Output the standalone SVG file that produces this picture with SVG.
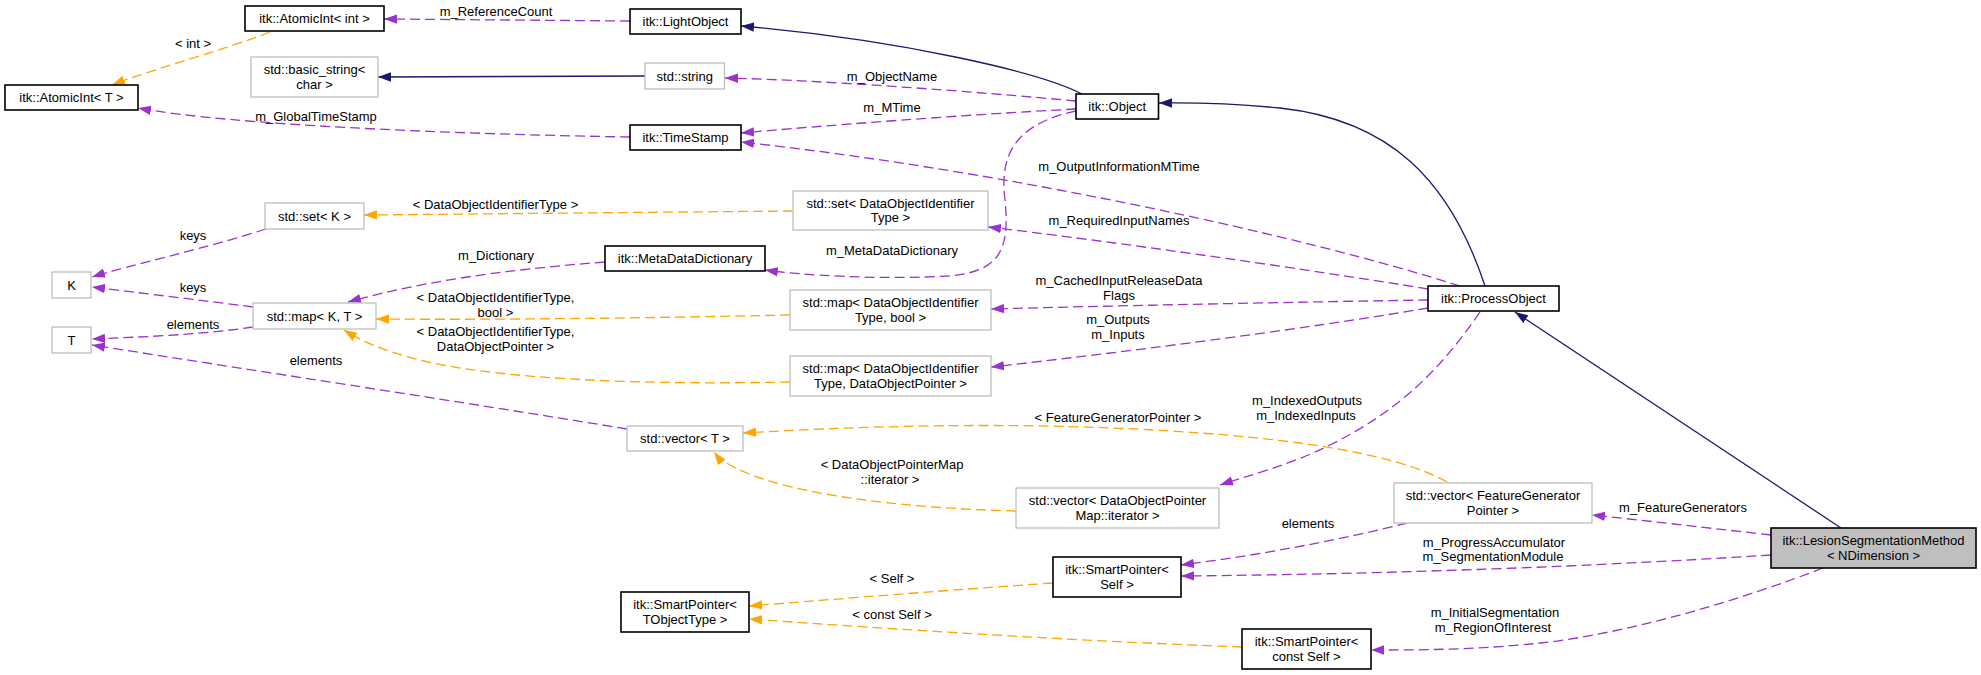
<svg xmlns="http://www.w3.org/2000/svg" width="1981" height="675" viewBox="0 0 1981 675">
<style>
text{font-family:"Liberation Sans",Arial,sans-serif;font-size:13px;fill:#000;text-anchor:middle}
.nb{fill:#fff;stroke:#000;stroke-width:1.6}
.ng{fill:#fff;stroke:#bfbfbf;stroke-width:1.3}
.nm{fill:#bfbfbf;stroke:#000;stroke-width:1.6}
.ep{fill:none;stroke:#9a32cd;stroke-width:1.3;stroke-dasharray:10,5;marker-end:url(#ap)}
.eo{fill:none;stroke:#ffa500;stroke-width:1.3;stroke-dasharray:10,5;marker-end:url(#ao)}
.en{fill:none;stroke:#191970;stroke-width:1.3;marker-end:url(#an)}
</style>
<defs>
<marker id="ap" markerUnits="userSpaceOnUse" markerWidth="14" markerHeight="10" viewBox="0 0 14 10" refX="13" refY="5" orient="auto"><path d="M0,0.3 L13,5 L0,9.7 z" fill="#9a32cd"/></marker>
<marker id="ao" markerUnits="userSpaceOnUse" markerWidth="14" markerHeight="10" viewBox="0 0 14 10" refX="13" refY="5" orient="auto"><path d="M0,0.3 L13,5 L0,9.7 z" fill="#ffa500"/></marker>
<marker id="an" markerUnits="userSpaceOnUse" markerWidth="14" markerHeight="10" viewBox="0 0 14 10" refX="13" refY="5" orient="auto"><path d="M0,0.3 L13,5 L0,9.7 z" fill="#191970"/></marker>
</defs>
<rect width="1981" height="675" fill="#fff"/>
<g id="connectors">
<path class="ep" d="M630,21 L384,19"/>
<text x="496" y="16">m_ReferenceCount</text>
<path class="eo" d="M270,32 C230,48 150,70 112,85"/>
<text x="193" y="47.5">&lt; int &gt;</text>
<path class="en" d="M645,76 L378,77"/>
<path class="ep" d="M630,137 C450,134 230,125 138,108"/>
<text x="316" y="120.5">m_GlobalTimeStamp</text>
<path class="en" d="M1082,94 C1040,72 900,40 741,26"/>
<path class="ep" d="M1076,101 C980,92 820,80 725,78"/>
<text x="892" y="80.5">m_ObjectName</text>
<path class="ep" d="M1076,109 C960,115 820,126 741,133"/>
<text x="892" y="112">m_MTime</text>
<path class="ep" d="M1460,286 C1300,235 1000,170 741,142"/>
<text x="1119" y="171">m_OutputInformationMTime</text>
<path class="ep" d="M1076,111 C1010,125 1000,160 1005,200 C1010,250 1000,272 948,276 C880,280 800,275 765,270"/>
<text x="892" y="255">m_MetaDataDictionary</text>
<path class="ep" d="M1428,289 C1300,268 1100,240 988,227"/>
<text x="1119" y="225">m_RequiredInputNames</text>
<path class="ep" d="M1428,300 C1300,302 1100,306 991,309"/>
<text x="1119" y="285">m_CachedInputReleaseData</text>
<text x="1119" y="299.5">Flags</text>
<path class="ep" d="M1428,308 C1300,330 1100,355 991,367"/>
<text x="1118" y="324">m_Outputs</text>
<text x="1118" y="339">m_Inputs</text>
<path class="ep" d="M1480,312 C1440,370 1400,410 1330,445 C1290,465 1250,475 1220,485"/>
<text x="1307" y="404.5">m_IndexedOutputs</text>
<text x="1306" y="419.5">m_IndexedInputs</text>
<path class="en" d="M1841,528 L1515,312"/>
<path class="en" d="M1485,286 C1450,180 1390,120 1280,108 C1220,102 1180,103 1159,103"/>
<path class="ep" d="M1771,535 C1700,527 1640,520 1592,515"/>
<text x="1683" y="512">m_FeatureGenerators</text>
<path class="ep" d="M1771,555 C1600,566 1400,574 1181,576"/>
<text x="1494" y="547">m_ProgressAccumulator</text>
<text x="1493" y="561">m_SegmentationModule</text>
<path class="ep" d="M1407,523 C1340,540 1260,555 1181,565"/>
<text x="1308" y="528">elements</text>
<path class="ep" d="M1823,568 C1740,600 1640,630 1550,642 C1480,650 1420,650 1371,650"/>
<text x="1495" y="617">m_InitialSegmentation</text>
<text x="1493" y="632">m_RegionOfInterest</text>
<path class="eo" d="M1447,482 C1400,455 1300,440 1200,433 C1050,422 900,424 743,433"/>
<text x="1118" y="421.5">&lt; FeatureGeneratorPointer &gt;</text>
<path class="eo" d="M1016,511 C900,508 800,495 747,473 C730,466 720,460 714,452"/>
<text x="892" y="468.5">&lt; DataObjectPointerMap</text>
<text x="890" y="483.5">::iterator &gt;</text>
<path class="eo" d="M1053,583 C950,590 850,598 749,606"/>
<text x="892" y="583">&lt; Self &gt;</text>
<path class="eo" d="M1242,647 C1050,640 850,626 749,619"/>
<text x="892" y="619">&lt; const Self &gt;</text>
<path class="ep" d="M266,229 C200,250 130,265 92,277"/>
<text x="193" y="239.5">keys</text>
<path class="ep" d="M253,307 C200,300 140,293 92,287"/>
<text x="193" y="291.5">keys</text>
<path class="ep" d="M253,327 C200,335 140,337 92,339"/>
<text x="193" y="328.5">elements</text>
<path class="ep" d="M627,429 C450,400 250,370 92,345"/>
<text x="316" y="364.5">elements</text>
<path class="ep" d="M605,262 C500,270 420,282 348,302"/>
<text x="496" y="259.5">m_Dictionary</text>
<path class="eo" d="M790,315 C650,318 500,320 376,319"/>
<text x="495.5" y="301.5">&lt; DataObjectIdentifierType,</text>
<text x="495.5" y="316.5">bool &gt;</text>
<path class="eo" d="M790,382 C650,385 500,380 420,360 C380,350 360,340 344,330"/>
<text x="495.5" y="336">&lt; DataObjectIdentifierType,</text>
<text x="495.5" y="351">DataObjectPointer &gt;</text>
<path class="eo" d="M793,211 L364,215"/>
<text x="495.5" y="208.5">&lt; DataObjectIdentifierType &gt;</text>
</g>
<g id="n_atomicint_int"><rect class="nb" x="245" y="6" width="139" height="25"/><text x="314.5" y="23">itk::AtomicInt&lt; int &gt;</text></g>
<g id="n_atomicint_t"><rect class="nb" x="5" y="85" width="133" height="25"/><text x="71.5" y="102">itk::AtomicInt&lt; T &gt;</text></g>
<g id="n_basic_string"><rect class="ng" x="251" y="57" width="127" height="40"/><text x="314.5" y="74">std::basic_string&lt;</text><text x="314.5" y="88.5">char &gt;</text></g>
<g id="n_lightobject"><rect class="nb" x="630" y="9" width="111" height="25"/><text x="685.5" y="26">itk::LightObject</text></g>
<g id="n_string"><rect class="ng" x="645" y="63" width="79.5" height="26"/><text x="684.75" y="80.5">std::string</text></g>
<g id="n_object"><rect class="nb" x="1076" y="94" width="82.5" height="25"/><text x="1117.25" y="111">itk::Object</text></g>
<g id="n_timestamp"><rect class="nb" x="630" y="125" width="111" height="25"/><text x="685.5" y="142">itk::TimeStamp</text></g>
<g id="n_set_k"><rect class="ng" x="265" y="203" width="99" height="26"/><text x="314.5" y="220.5">std::set&lt; K &gt;</text></g>
<g id="n_set_doit"><rect class="ng" x="793" y="191" width="195" height="39"/><text x="890.5" y="207.5">std::set&lt; DataObjectIdentifier</text><text x="890.5" y="222">Type &gt;</text></g>
<g id="n_k"><rect class="ng" x="52" y="272" width="39" height="26"/><text x="71.5" y="289.5">K</text></g>
<g id="n_t"><rect class="ng" x="52" y="327" width="39" height="26"/><text x="71.5" y="344.5">T</text></g>
<g id="n_map_kt"><rect class="ng" x="253" y="303" width="123" height="26"/><text x="314.5" y="320.5">std::map&lt; K, T &gt;</text></g>
<g id="n_metadatadictionary"><rect class="nb" x="605" y="246" width="160" height="25"/><text x="685" y="263">itk::MetaDataDictionary</text></g>
<g id="n_map_doit_bool"><rect class="ng" x="790" y="290" width="201" height="40"/><text x="890.5" y="307">std::map&lt; DataObjectIdentifier</text><text x="890.5" y="321.5">Type, bool &gt;</text></g>
<g id="n_map_doit_dop"><rect class="ng" x="790" y="356" width="201" height="40"/><text x="890.5" y="373">std::map&lt; DataObjectIdentifier</text><text x="890.5" y="387.5">Type, DataObjectPointer &gt;</text></g>
<g id="n_vector_t"><rect class="ng" x="627" y="426" width="116" height="25"/><text x="685" y="443">std::vector&lt; T &gt;</text></g>
<g id="n_vector_dopmap"><rect class="ng" x="1016" y="488" width="203" height="40"/><text x="1117.5" y="505">std::vector&lt; DataObjectPointer</text><text x="1117.5" y="519.5">Map::iterator &gt;</text></g>
<g id="n_vector_fg"><rect class="ng" x="1394" y="483" width="198" height="40"/><text x="1493" y="500">std::vector&lt; FeatureGenerator</text><text x="1493" y="514.5">Pointer &gt;</text></g>
<g id="n_processobject"><rect class="nb" x="1428" y="286" width="131" height="25"/><text x="1493.5" y="303">itk::ProcessObject</text></g>
<g id="n_lesion"><rect class="nm" x="1771" y="528" width="205" height="40"/><text x="1873.5" y="545">itk::LesionSegmentationMethod</text><text x="1873.5" y="559.5">&lt; NDimension &gt;</text></g>
<g id="n_sp_self"><rect class="nb" x="1053" y="557" width="128" height="40"/><text x="1117" y="574">itk::SmartPointer&lt;</text><text x="1117" y="588.5">Self &gt;</text></g>
<g id="n_sp_tobjecttype"><rect class="nb" x="621" y="592" width="128" height="40"/><text x="685" y="609">itk::SmartPointer&lt;</text><text x="685" y="623.5">TObjectType &gt;</text></g>
<g id="n_sp_const_self"><rect class="nb" x="1242" y="629" width="129" height="40"/><text x="1306.5" y="646">itk::SmartPointer&lt;</text><text x="1306.5" y="660.5">const Self &gt;</text></g>
</svg>
